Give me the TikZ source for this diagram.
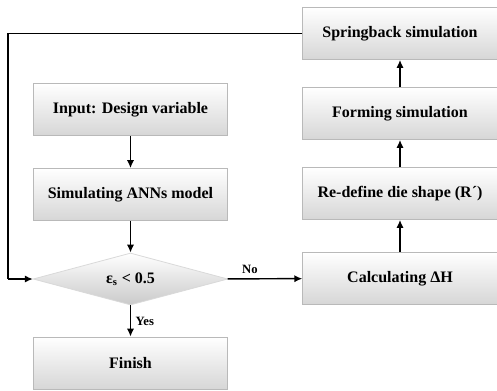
\documentclass[tikz,border=0pt]{standalone}
\usepackage{fontspec}
\setmainfont{Liberation Serif}
\usetikzlibrary{shapes.geometric,arrows.meta}
\begin{document}
\begin{tikzpicture}[x=0.75pt,y=-0.75pt,
  stepbox/.style={draw=gray!55,line width=0.6pt,top color=white,bottom color=gray!32,
    minimum width=146pt,minimum height=39pt,font=\fontsize{12}{14}\selectfont\bfseries},
  testbox/.style={diamond,draw=gray!30,line width=0.6pt,top color=white,bottom color=gray!42,
    minimum width=146pt,minimum height=39pt,inner sep=0pt,aspect=3.7,
    font=\fontsize{12}{14}\selectfont\bfseries},
  flow/.style={line width=1.1pt,-{Latex[length=6pt,width=5.5pt]}},
  upflow/.style={flow,line width=1.5pt},
  answer/.style={font=\fontsize{9.5}{11}\selectfont\bfseries}]
\useasboundingbox (0,0) rectangle (497,390);

\node[stepbox] (v1) at (130.5,109.5) {Input: Design variable};
\node[stepbox] (v2) at (130.5,194.5) {Simulating ANNs model};
\node[testbox] (v3) at (130.5,279) {ε\textsubscript{s} < 0.5};
\node[stepbox] (v4) at (130.5,363) {Finish};
\node[stepbox] (v5) at (400,278.5) {Calculating ΔH};
\node[stepbox] (v6) at (400,193.5) {Re-define die shape (R´)};
\node[stepbox] (v7) at (400,113.5) {Forming simulation};
\node[stepbox] (v8) at (400,33.5) {Springback simulation};
\coordinate (c1) at (8,33.5);
\coordinate (c2) at (8,279);

\draw (v1) edge[flow] (v2);
\draw (v2) edge[flow] (v3);
\draw (v3) edge[flow] node[answer,right]{Yes} (v4);
\draw (v3) edge[flow] node[answer,above,pos=0.3]{No} (v5);
\draw (v5) edge[upflow] (v6);
\draw (v6) edge[upflow] (v7);
\draw (v7) edge[upflow] (v8);
\draw[line width=1pt] (v8.west) -- (c1) -- (c2);
\draw[flow] (c2) -- (v3.west);
\end{tikzpicture}
\end{document}
